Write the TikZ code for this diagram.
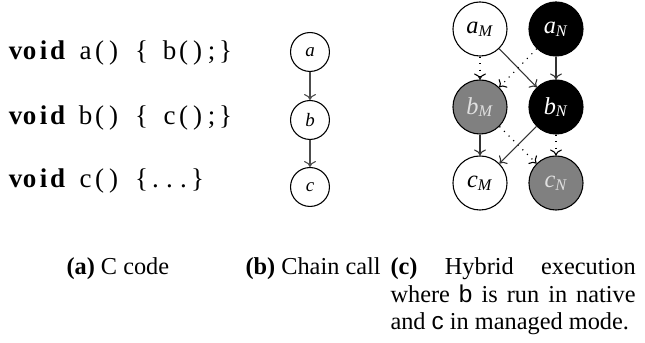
\documentclass[tikz,border=0pt]{standalone}
\usepackage{fontspec}
\setmainfont{Liberation Serif}
\setsansfont{Liberation Sans}
\usetikzlibrary{arrows.meta}

% one fixed-width column of the code listing
\newcommand\cl[1]{\makebox[5.18pt][c]{#1}}
\newcommand\kwvoid{\textbf{\cl{v}\cl{o}\cl{i}\cl{d}}\cl{}}
\definecolor{midgray}{gray}{0.5}
\definecolor{edgegray}{gray}{0.3}

\begin{document}
\begin{tikzpicture}[x=0.37pt,y=-0.37pt,
  codeline/.style={anchor=base west,inner sep=0pt,font=\fontsize{10}{12}\selectfont},
  caption/.style={anchor=base west,inner sep=0pt,font=\fontsize{9}{10}\selectfont},
  chainnode/.style={circle,draw,line width=0.4pt,minimum size=14.4pt,inner sep=0pt,
    font=\fontsize{7}{8}\selectfont\itshape},
  hnode/.style={circle,draw,line width=0.4pt,minimum size=20pt,inner sep=0pt,
    font=\fontsize{9}{10}\selectfont\itshape},
  managed/.style={hnode,fill=white,text=black},
  native/.style={hnode,fill=black,text=white},
  runmg/.style={hnode,fill=midgray,text=white!88!black},
  chainedge/.style={draw=edgegray,line width=0.4pt,-{To[length=2.2pt,width=4.4pt]}},
  calledge/.style={draw=black!80,line width=0.4pt,-{To[length=2.2pt,width=4.4pt]}},
  altedge/.style={draw=black,line width=0.4pt,dotted,-{To[length=2.2pt,width=4.4pt]}}
]
\useasboundingbox (0,0) rectangle (645,343);

% (a) source code
\node[codeline] (la) at (8,60) {\kwvoid\cl{a}\cl{(}\cl{)}\cl{}\cl{\{}\cl{}\cl{b}\cl{(}\cl{)}\cl{;}\cl{\}}};
\node[codeline] (lb) at (8,125) {\kwvoid\cl{b}\cl{(}\cl{)}\cl{}\cl{\{}\cl{}\cl{c}\cl{(}\cl{)}\cl{;}\cl{\}}};
\node[codeline] (lc) at (8,188) {\kwvoid\cl{c}\cl{(}\cl{)}\cl{}\cl{\{}\cl{.}\cl{.}\cl{.}\cl{\}}};

% (b) chain of calls
\node[chainnode] (a) at (310,52) {a};
\node[chainnode] (b) at (310,120) {b};
\node[chainnode] (c) at (310,187) {c};
\draw[chainedge] (a) -- (b);
\draw[chainedge] (b) -- (c);

% (c) hybrid execution: managed (M) and native (N) variants
\node[managed] (aM) at (480,29) {a\textsubscript{\fontsize{6}{7}\selectfont M}};
\node[native]  (aN) at (556,29) {a\textsubscript{\fontsize{6}{7}\selectfont N}};
\node[runmg]   (bM) at (480,107) {b\textsubscript{\fontsize{6}{7}\selectfont M}};
\node[native]  (bN) at (556,107) {b\textsubscript{\fontsize{6}{7}\selectfont N}};
\node[managed] (cM) at (480,183) {c\textsubscript{\fontsize{6}{7}\selectfont M}};
\node[runmg]   (cN) at (556,183) {c\textsubscript{\fontsize{6}{7}\selectfont N}};

\draw[altedge]  (aM) -- (bM);
\draw[calledge] (aM) -- (bN);
\draw[calledge] (aN) -- (bN);
\draw[altedge]  (aN) -- (bM);
\draw[calledge] (bM) -- (cM);
\draw[altedge]  (bM) -- (cN);
\draw[calledge] (bN) -- (cM);
\draw[altedge]  (bN) -- (cN);

% sub-captions
\node[caption] (capa) at (66,275) {\textbf{(a)} C code};
\node[caption] (capb) at (245,275) {\textbf{(b)} Chain call};
\node[caption] (capc) at (390,275) {\parbox[t]{90.7pt}{\hyphenpenalty=10000\fontsize{9}{10}\selectfont
  \textbf{(c)} Hybrid execution where \textsf{b} is run in native and \textsf{c} in managed mode.}};
\end{tikzpicture}
\end{document}
